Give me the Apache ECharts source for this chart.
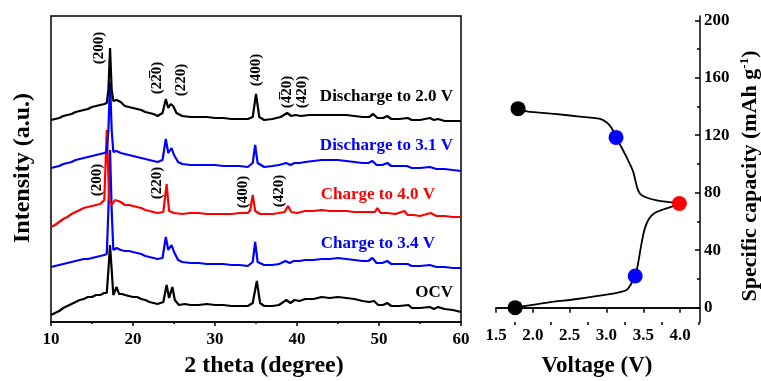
<!DOCTYPE html>
<html><head><meta charset="utf-8">
<script src="https://cdn.jsdelivr.net/npm/echarts@6/dist/echarts.min.js"></script>
<style>html,body{margin:0;padding:0;background:#fff}#c{width:761px;height:381px}</style>
</head><body><div id="c"></div>
<script>
// ---- XRD patterns: [2theta (deg), intensity (a.u., offset stacked)] ----
const xrdOCV = [[10,7],[10.5,9],[11,11],[11.5,14],[12,16],[12.5,18],[13,20],[13.5,22],[14,23],[14.5,25],[15,25],[15.5,27],[16,27],[16.5,29],[16.8,29],[17.0,52],[17.2,77],[17.4,52],[17.6,27],[18.0,35],[18.3,28],[18.7,28],[19,27],[19.5,26],[20,25],[20.5,25],[21,23],[21.5,22],[22,20],[22.5,19],[23,18],[23.7,20],[24.1,37],[24.4,24],[24.8,35],[25.1,22],[25.6,17],[26.3,18],[27,17],[28,17],[29,18],[30,17],[31,17],[32,16],[33,16],[34,16],[34.6,19],[35.1,41],[35.5,19],[36,16],[37,16],[37.8,17],[38.7,22],[39.2,19],[39.7,22],[40.3,21],[41,23],[42,23],[43,25],[44,24],[45,25],[46,24],[47,23],[48,21],[48.8,20],[49.4,21],[49.9,17],[50.5,17],[51,19],[51.5,16],[52.5,16],[53.6,17],[54,14],[55,14],[56.2,15],[56.7,13],[57.2,15],[58,13],[59,12],[60,10]];
const xrdC34 = [[10,55],[10.5,56],[11,57],[11.5,58],[12,59],[12.5,60],[13,61],[13.5,62],[14,63],[14.5,63],[15,64],[15.5,65],[16,66],[16.5,67],[16.8,68],[17.0,112],[17.2,172],[17.4,112],[17.6,72],[18,74],[18.5,72],[19,71],[19.5,71],[20,70],[20.5,69],[21,68],[21.5,66],[22,65],[22.5,64],[23,63],[23.6,64],[24.0,85],[24.3,72],[24.7,77],[25.0,70],[25.5,62],[26,60],[27,59],[28,59],[29,58],[30,58],[31,58],[32,57],[33,57],[34,56],[34.6,60],[34.9,80],[35.2,60],[36,57],[37,57],[37.8,58],[38.6,61],[39.1,59],[39.6,61],[40.3,61],[41,62],[42,62],[43,63],[44,63],[45,64],[46,63],[47,62],[48,61],[48.7,61],[49.2,64],[49.7,59],[50.4,59],[51,61],[51.5,58],[52.5,58],[53.5,58],[54,56],[55,56],[56.2,57],[57,55],[58,55],[59,54],[60,54]];
const xrdC40 = [[10,95],[10.5,97],[11,100],[11.5,103],[12,105],[12.5,108],[13,110],[13.5,112],[14,114],[14.5,115],[15,116],[15.5,117],[16,118],[16.5,122],[16.8,192],[17.1,122],[17.4,117],[17.8,122],[18.2,121],[18.5,120],[19,117],[19.5,117],[20,116],[20.5,115],[21,114],[21.5,112],[22,111],[22.5,110],[23,109],[23.7,110],[24.1,138],[24.4,111],[25,109],[26,108],[27,109],[28,109],[29,108],[30,108],[31,108],[32,108],[33,109],[34,109],[34.3,112],[34.6,127],[34.9,111],[35.5,108],[36,108],[37,108],[37.8,109],[38.5,110],[38.9,116],[39.3,110],[40,109],[41,111],[42,111],[43,112],[44,111],[45,111],[46,111],[47,110],[48,110],[49.5,110],[49.8,114],[50.2,109],[51,109],[52,108],[53.1,111],[53.5,107],[54.2,107],[55,106],[56.3,109],[57,106],[58,106],[59,105],[60,105]];
const xrdD31 = [[10,154],[10.5,155],[11,156],[11.5,158],[12,159],[12.5,160],[13,162],[13.5,163],[14,164],[14.5,165],[15,166],[15.5,167],[16,168],[16.5,169],[16.8,170],[17.0,192],[17.2,240],[17.4,192],[17.6,170],[18,171],[18.5,169],[19,168],[19.5,167],[20,166],[20.5,165],[21,164],[21.5,163],[22,162],[22.5,161],[23,160],[23.6,162],[24.0,183],[24.3,169],[24.7,174],[25.0,167],[25.5,160],[26,158],[27,157],[28,157],[29,157],[30,157],[31,156],[32,156],[33,156],[34,155],[34.6,159],[34.9,177],[35.2,159],[36,155],[37,156],[37.8,157],[38.7,159],[39.2,157],[39.7,159],[40.3,159],[41,160],[42,161],[43,162],[44,162],[45,162],[46,161],[47,160],[48,159],[48.7,159],[49.2,161],[49.7,157],[50.4,157],[51,159],[51.5,156],[52.5,156],[53.4,156],[54,154],[55,154],[56.2,155],[57,153],[58,153],[59,152],[60,151]];
const xrdD20 = [[10,202],[10.5,203],[11,204],[11.5,206],[12,207],[12.5,208],[13,210],[13.5,211],[14,212],[14.5,213],[15,215],[15.5,216],[16,217],[16.5,218],[16.8,219],[17.0,232],[17.2,274],[17.4,232],[17.6,221],[18.0,222],[18.5,220],[19,216],[19.5,215],[20,214],[20.5,213],[21,212],[21.5,210],[22,209],[22.5,208],[23,206],[23.6,209],[24.0,223],[24.3,214],[24.6,218],[24.9,216],[25.3,209],[26,206],[27,205],[28,205],[29,205],[30,204],[31,204],[32,203],[33,203],[34,203],[34.6,205],[35.0,228],[35.4,205],[36,202],[37,203],[38,205],[38.8,209],[39.3,206],[39.8,207],[40.5,206],[41.5,207],[42.5,207],[44,207],[45,207],[46,207],[47,206],[48,205],[48.8,205],[49.3,208],[49.8,204],[50.5,204],[51.0,206],[51.5,203],[52.5,203],[53.5,204],[54,202],[55,202],[56.2,204],[56.7,202],[57.2,203],[58,201],[59,201],[60,201]];

const xrdSeriesNames = ['OCV','Charge to 3.4 V','Charge to 4.0 V','Discharge to 3.1 V','Discharge to 2.0 V'];
const xrdColors = ['#000000','#0000ff','#ff0000','#0000ff','#000000'];
const xTicks = [10,20,30,40,50,60];

// ---- Capacity vs voltage ----
const chargeCurve = [[1.76,0],[2.2,3.5],[2.6,6],[3.0,9],[3.2,11],[3.28,12.5],[3.34,17],[3.39,22],[3.43,31],[3.47,43],[3.52,55],[3.58,62],[3.66,66],[3.78,68.5],[3.9,70.5],[3.99,72.5]];
const dischargeCurve = [[3.99,72.5],[3.85,73.5],[3.7,74.5],[3.55,76.5],[3.46,79],[3.42,83],[3.36,95],[3.28,104],[3.2,112],[3.13,118.5],[3.07,125],[3.0,129],[2.9,131.5],[2.64,133],[2.3,134.8],[1.92,136.6],[1.8,138.5]];
const markerVoltage = [1.76,3.39,3.99,3.13,1.80];
const markerCapacity = [0,22,72.5,118.5,138.5];
const markerColors = ['#000000','#0000ff','#ff0000','#0000ff','#000000'];
const vTicks = [1.5,2.0,2.5,3.0,3.5,4.0];
const vMinorTicks = [1.75,2.25,2.75,3.25,3.75,4.25];
const capTicks = [0,40,80,120,160,200];
const capMinorTicks = [20,60,100,140,180];

const F = 'Liberation Serif';
const chart = echarts.init(document.getElementById('c'), null, {renderer:'canvas'});

const series = [];
xrdSeriesNames.forEach((n,i)=>{
  const data = [xrdOCV,xrdC34,xrdC40,xrdD31,xrdD20][i];
  series.push({type:'line', name:n, xAxisIndex:0, yAxisIndex:0, data:data, showSymbol:false,
    lineStyle:{color:xrdColors[i], width:2.2}, z: 2+i, silent:true, animation:false});
});
series.push({type:'line', xAxisIndex:1, yAxisIndex:1, data:chargeCurve, smooth:0.3, showSymbol:false,
  lineStyle:{color:'#000', width:1.8}, animation:false});
series.push({type:'line', xAxisIndex:1, yAxisIndex:1, data:dischargeCurve, smooth:0.3, showSymbol:false,
  lineStyle:{color:'#000', width:1.8}, animation:false});
series.push({type:'scatter', xAxisIndex:1, yAxisIndex:1, symbolSize:15, z:10, animation:false,
  data: markerVoltage.map((v,i)=>({value:[v, markerCapacity[i]], itemStyle:{color:markerColors[i], opacity:1}}))});

const tickLabel = {fontFamily:F, fontWeight:'bold', fontSize:17, color:'#000'};

const peakLabels = [
  ['(200)',99,48],['(22\u03050)',157,78],['(220)',181,80],['(400)',256,70],['(4\u030520)',287,92],['(420)',302,92],
  ['(200)',97,180],['(220)',157,183],['(400)',243,192],['(420)',279,191]
];

const graphics = [];
peakLabels.forEach(p=>{
  graphics.push({type:'text', x:p[1], y:p[2], rotation:Math.PI/2,
    style:{text:p[0], fontFamily:F, fontWeight:'bold', fontSize:15, fill:'#000', align:'center', verticalAlign:'middle'}});
});
const curveLabels = [
  ['Discharge to 2.0 V',453,97,'#000'],['Discharge to 3.1 V',453,146,'#0000ff'],
  ['Charge to 4.0 V',435,195,'#ff0000'],['Charge to 3.4 V',435,244,'#0000ff'],['OCV',453,293,'#000']
];
curveLabels.forEach(c=>{
  graphics.push({type:'text', x:c[1], y:c[2],
    style:{text:c[0], fontFamily:F, fontWeight:'bold', fontSize:17, fill:c[3], align:'right', verticalAlign:'middle'}});
});
graphics.push({type:'text', x:264, y:366, style:{text:'2 theta (degree)', fontFamily:F, fontWeight:'bold', fontSize:24, fill:'#000', align:'center', verticalAlign:'middle'}});
graphics.push({type:'text', x:597, y:366, style:{text:'Voltage (V)', fontFamily:F, fontWeight:'bold', fontSize:23, fill:'#000', align:'center', verticalAlign:'middle'}});
graphics.push({type:'text', x:23, y:168, rotation:Math.PI/2, style:{text:'Intensity (a.u.)', fontFamily:F, fontWeight:'bold', fontSize:24, fill:'#000', align:'center', verticalAlign:'middle'}});
graphics.push({type:'text', x:750, y:176, rotation:Math.PI/2, style:{text:'{a|Specific capacity (mAh g}{s|-1}{a|)}', fontFamily:F, fontWeight:'bold', fontSize:22, fill:'#000', align:'center', verticalAlign:'middle',
  rich:{a:{fontFamily:F, fontWeight:'bold', fontSize:22, fill:'#000'}, s:{fontFamily:F, fontWeight:'bold', fontSize:13, fill:'#000', verticalAlign:'top', padding:[0,0,10,0]}}}});

chart.setOption({
  backgroundColor:'#fff',
  animation:false,
  grid:[
    {left:51, top:16, width:410, height:306, show:true, borderColor:'#000', borderWidth:1.5, backgroundColor:'transparent'},
    {left:496, top:16, width:204, height:306, show:false}
  ],
  xAxis:[
    {gridIndex:0, type:'value', min:10, max:60, interval:10,
      axisLine:{show:true, lineStyle:{color:'#000', width:1.5}},
      axisTick:{show:true, inside:false, length:4, lineStyle:{color:'#000', width:1.5}},
      minorTick:{show:true, splitNumber:2, length:2, lineStyle:{color:'#000', width:1.5}},
      splitLine:{show:false}, axisLabel:{...tickLabel, margin:9}},
    {gridIndex:1, type:'value', min:1.5, max:4.27, position:'bottom',
      axisLine:{show:true, lineStyle:{color:'#000', width:1.5}},
      axisTick:{show:true, inside:false, length:5, customValues:vTicks, lineStyle:{color:'#000', width:1.5}},
      splitLine:{show:false}, axisLabel:{...tickLabel, margin:5, customValues:vTicks, formatter:v=>v.toFixed(1)}},
    {gridIndex:1, type:'value', min:1.5, max:4.27, position:'top',
      axisLine:{show:true, lineStyle:{color:'#000', width:1.5}},
      axisTick:{show:false}, axisLabel:{show:false}, splitLine:{show:false}},
    {gridIndex:1, type:'value', min:1.5, max:4.27, position:'bottom',
      axisLine:{show:false},
      axisTick:{show:true, inside:false, length:3, customValues:vMinorTicks, lineStyle:{color:'#000', width:1.5}},
      axisLabel:{show:false}, splitLine:{show:false}}
  ],
  yAxis:[
    {gridIndex:0, type:'value', min:0, max:306, show:false, splitLine:{show:false}},
    {gridIndex:1, type:'value', min:-10, max:203, position:'right',
      axisLine:{show:true, lineStyle:{color:'#000', width:1.5}},
      axisTick:{show:true, inside:true, length:5, customValues:capTicks, lineStyle:{color:'#000', width:1.5}},
      splitLine:{show:false}, axisLabel:{...tickLabel, margin:4, customValues:capTicks}},
    {gridIndex:1, type:'value', min:-10, max:203, position:'right',
      axisLine:{show:false},
      axisTick:{show:true, inside:true, length:3, customValues:capMinorTicks, lineStyle:{color:'#000', width:1.5}},
      axisLabel:{show:false}, splitLine:{show:false}}
  ],
  series: series,
  graphic: graphics
});
</script></body></html>
